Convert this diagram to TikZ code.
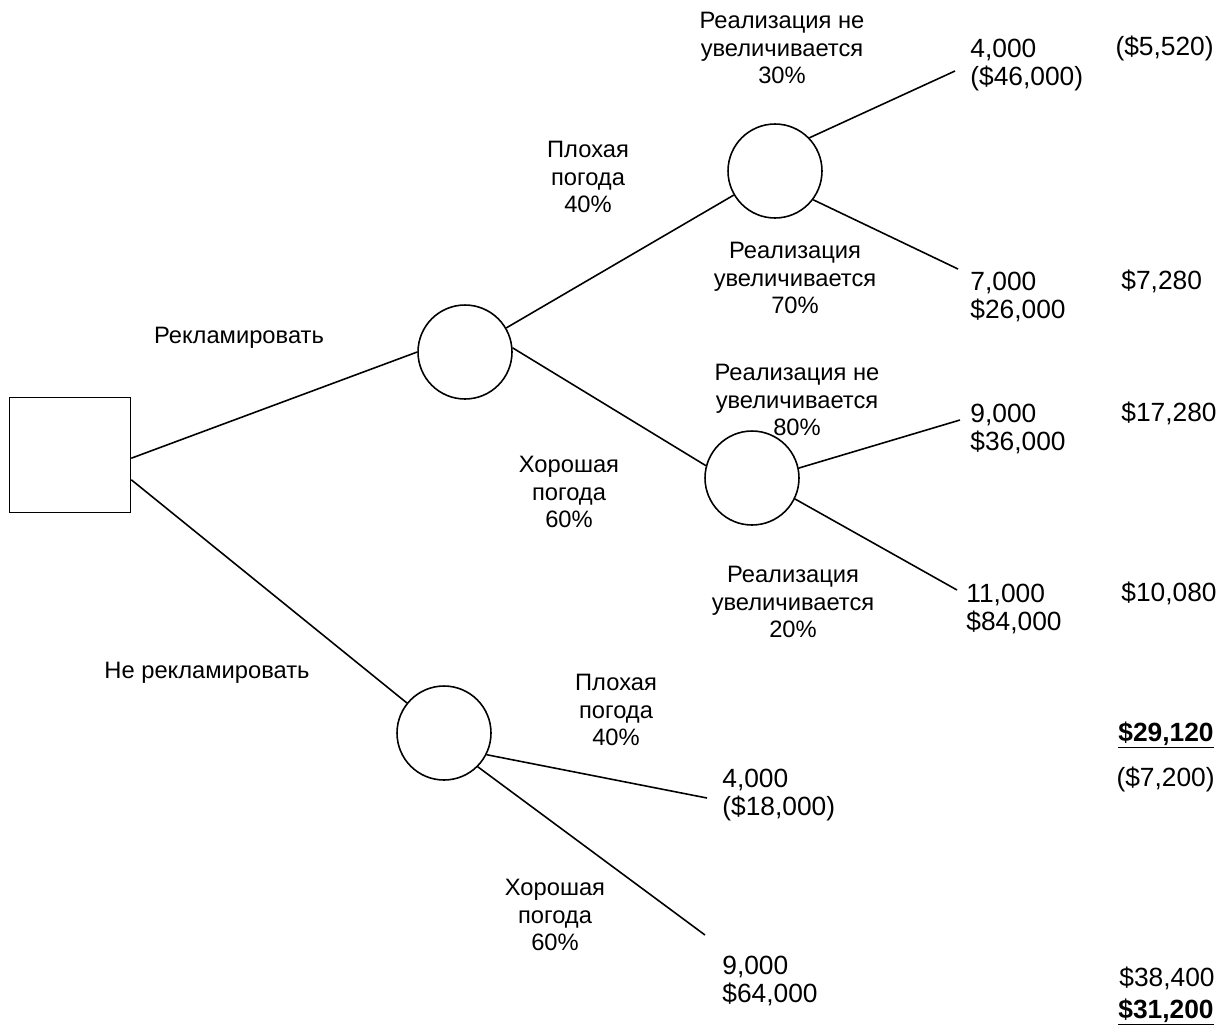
\documentclass[tikz,border=0pt]{standalone}
\usepackage{fontspec}
\setmainfont{Liberation Sans}
\usetikzlibrary{calc}

\begin{document}
\begin{tikzpicture}[x=0.02cm,y=-0.02cm,
    branch/.style={line width=0.9pt},
    decision/.style={draw,line width=0.9pt,rectangle,minimum width=2.42cm,minimum height=2.3cm},
    chance/.style={draw,line width=0.9pt,circle,minimum size=1.88cm,inner sep=0pt},
    lbl/.style={font=\fontsize{13.5}{15.5}\selectfont,align=center,inner sep=0pt},
    payoff/.style={font=\fontsize{15}{16}\selectfont,align=left,anchor=north west,inner sep=0pt},
    ev/.style={font=\fontsize{15}{16}\selectfont,anchor=west,inner sep=0pt},
    total/.style={font=\fontsize{15}{16}\selectfont\bfseries,anchor=west,inner sep=0pt}]

% === Frame ===
\useasboundingbox (0,0) rectangle (1219,1025);

% === Decision and chance nodes ===
\node[decision] (sq) at (70,455) {};
\node[chance] (chA) at (465,352) {};
\node[chance] (chB) at (775,171) {};
\node[chance] (chC) at (752,478) {};
\node[chance] (chD) at (444,733) {};

% === Free ends of the branches ===
\coordinate (e1) at (955,71);
\coordinate (e2) at (958,269);
\coordinate (e3) at (960,420);
\coordinate (e4) at (957,590);
\coordinate (e5) at (707,798);
\coordinate (e6) at (705,935);

% === Branches ===
\draw[branch] (sq.-3) -- (chA.west);
\draw[branch] (sq.-22) -- (chD);
\draw[branch] (chA) -- (chB);
\draw[branch] (chA.5) -- (chC.165);
\draw[branch] (chB.44) -- (e1);
\draw[branch] (chB.-37) -- (e2);
\draw[branch] (chC.12) -- (e3);
\draw[branch] (chC.-26) -- (e4);
\draw[branch] (chD.-27) -- (e5);
\draw[branch] (chD.-45) -- (e6);

% === Branch labels ===
\node[lbl] (tAdv) at (239,338) {Рекламировать};
\node[lbl] (tNoAdv) at (207,673) {Не рекламировать};
\node[lbl] (tBadA) at (588,177) {Плохая\\погода\\40\%};
\node[lbl] (tGoodA) at (569,492) {Хорошая\\погода\\60\%};
\node[lbl] (tNoIncB) at (782,48) {Реализация не\\увеличивается\\30\%};
\node[lbl] (tIncB) at (795,278) {Реализация\\увеличивается\\70\%};
\node[lbl] (tNoIncC) at (797,400) {Реализация не\\увеличивается\\80\%};
\node[lbl] (tIncC) at (793,602) {Реализация\\увеличивается\\20\%};
\node[lbl] (tBadD) at (616,710) {Плохая\\погода\\40\%};
\node[lbl] (tGoodD) at (555,915) {Хорошая\\погода\\60\%};

% === Sales and profits ===
\node[payoff] (o1) at (970,39) {4,000\\(\$46,000)};
\node[payoff] (o2) at (970,272) {7,000\\\$26,000};
\node[payoff] (o3) at (970,404) {9,000\\\$36,000};
\node[payoff] (o4) at (966,584) {11,000\\\$84,000};
\node[payoff] (o5) at (722,769) {4,000\\(\$18,000)};
\node[payoff] (o6) at (722,956) {9,000\\\$64,000};

% === Expected values ===
\node[ev,anchor=east] (v1) at (1214,48) {(\$5,520)};
\node[ev] (v2) at (1121,281) {\$7,280};
\node[ev] (v3) at (1121,413) {\$17,280};
\node[ev] (v4) at (1121,593) {\$10,080};
\node[total] (sumAdv) at (1118,735) {\underline{\$29,120}};
\node[ev,anchor=east] (v5) at (1215,779) {(\$7,200)};
\node[ev] (v6) at (1119,978) {\$38,400};
\node[total] (sumNoAdv) at (1118,1012) {\underline{\$31,200}};

\end{tikzpicture}
\end{document}
